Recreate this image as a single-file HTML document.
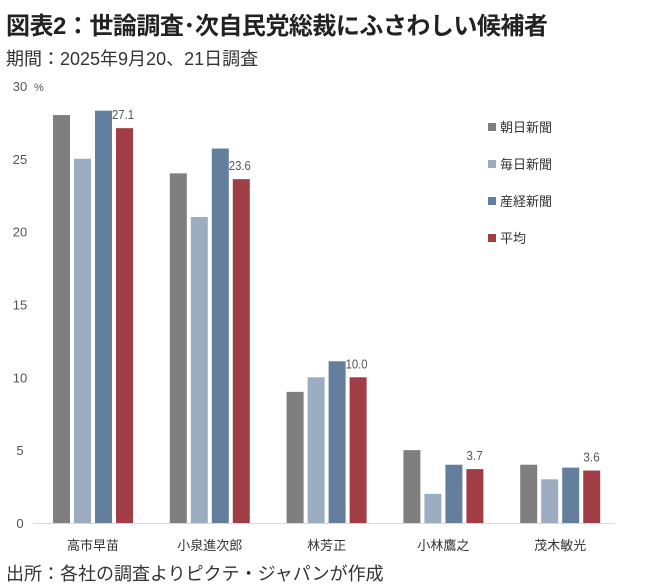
<!DOCTYPE html>
<html><head><meta charset="utf-8"><style>
body{margin:0;background:#fff;font-family:"Liberation Sans","Noto Sans CJK JP",sans-serif;}
#wrap{position:relative;width:660px;height:588px;overflow:hidden;}
.t{position:absolute;white-space:nowrap;color:#333;}
</style></head><body><div id="wrap">
<div class="t" style="left:6px;top:6px;font-size:24px;font-weight:bold;color:#222;letter-spacing:-0.5px;">図表2：世論調査･次自民党総裁にふさわしい候補者</div>
<div class="t" style="left:6px;top:45px;font-size:18px;">期間：2025年9月20、21日調査</div>
<svg id="c" width="660" height="588" style="position:absolute;left:0;top:0"></svg>
<div class="t" style="left:6px;top:560px;font-size:18px;">出所：各社の調査よりピクテ・ジャパンが作成</div>
</div>
<script>
const categories=["高市早苗","小泉進次郎","林芳正","小林鷹之","茂木敏光"];
const seriesNames=["朝日新聞","毎日新聞","産経新聞","平均"];
const asahi=[28,24,9,5,4];
const mainichi=[25,21,10,2,3];
const sankei=[28.3,25.7,11.1,4,3.8];
const average=[27.1,23.6,10.0,3.7,3.6];
const yTicks=[0,5,10,15,20,25,30];
const series=[asahi,mainichi,sankei,average];
const colors=["#7f7f7f","#9cadc2","#647e9e","#a13d45"];
const NS="http://www.w3.org/2000/svg";
const svg=document.getElementById("c");
const y=v=>523-v*14.57;
const gx=i=>93+i*116.8;
function mk(t,a){const e=document.createElementNS(NS,t);for(const k in a)e.setAttribute(k,a[k]);svg.appendChild(e);return e;}
let ax=mk("line",{x1:33,x2:615,y1:523.5,y2:523.5,stroke:"#d9d9d9","stroke-width":1});


yTicks.forEach(v=>{const t=mk("text",{x:20,y:y(v)+5,"text-anchor":"middle","font-size":13,fill:"#555"});t.textContent=v;

});
let pc=mk("text",{x:34,y:y(30)+5,"font-size":11,fill:"#555"});pc.textContent="%";


categories.forEach((c,i)=>{
 series.forEach((s,j)=>{
  const x=gx(i)-40+j*21;
  const r=mk("rect",{x:x,y:y(s[i]),width:17,height:523-y(s[i]),fill:colors[j]});
  
  
  if(j==3){const lbl=s[i].toFixed(1);
  const t=mk("text",{x:lbl.length>3?x-4:x,y:y(s[i])-9,"font-size":13,fill:"#555",textLength:lbl.length*5.5,lengthAdjust:"spacingAndGlyphs"});t.textContent=lbl;
  
  }
 });
 const t=mk("text",{x:gx(i),y:550,"text-anchor":"middle","font-size":13,fill:"#333"});t.textContent=c;
 
 
});
seriesNames.forEach((n,j)=>{
 const ly=128+j*37;
 const r=mk("rect",{x:488,y:ly-5,width:8,height:8,fill:colors[j]});
 
 
 const t=mk("text",{x:500,y:ly+4,"font-size":13,fill:"#333"});t.textContent=n;
 
 
});
</script></body></html>
